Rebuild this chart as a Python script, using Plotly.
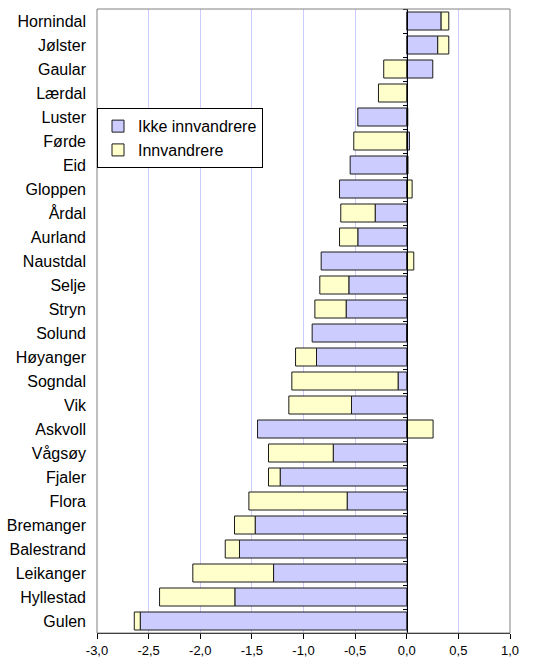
import plotly.graph_objects as go

# --- Data ---
kommuner = ["Hornindal", "Jølster", "Gaular", "Lærdal", "Luster", "Førde", "Eid",
            "Gloppen", "Årdal", "Aurland", "Naustdal", "Selje", "Stryn", "Solund",
            "Høyanger", "Sogndal", "Vik", "Askvoll", "Vågsøy", "Fjaler", "Flora",
            "Bremanger", "Balestrand", "Leikanger", "Hyllestad", "Gulen"]

ikke_innvandrere = [0.333, 0.300, 0.252, 0.0, -0.474, 0.026, -0.548,
                    -0.651, -0.306, -0.474, -0.829, -0.561, -0.587, -0.916,
                    -0.874, -0.084, -0.535, -1.445, -0.712, -1.226, -0.577,
                    -1.468, -1.620, -1.290, -1.665, -2.581]

innvandrere = [0.074, 0.107, -0.223, -0.274, 0.010, -0.513, 0.012,
               0.052, -0.333, -0.177, 0.068, -0.281, -0.303, 0.0,
               -0.203, -1.029, -0.607, 0.255, -0.627, -0.113, -0.952,
               -0.200, -0.138, -0.782, -0.729, -0.058]

x_ticks = [-3.0, -2.5, -2.0, -1.5, -1.0, -0.5, 0.0, 0.5, 1.0]
x_tick_labels = ["-3,0", "-2,5", "-2,0", "-1,5", "-1,0", "-0,5", "0,0", "0,5", "1,0"]

n = len(kommuner)
y_range = [n - 0.5, -0.5]  # first category at the top

# --- Figure ---
fig = go.Figure()

fig.add_trace(go.Bar(
    y=kommuner, x=ikke_innvandrere, orientation="h", name="Ikke innvandrere",
    marker=dict(color="#CCCCFF", line=dict(color="#1a1a1a", width=1)),
))
fig.add_trace(go.Bar(
    y=kommuner, x=innvandrere, orientation="h", name="Innvandrere",
    marker=dict(color="#FFFFCC", line=dict(color="#1a1a1a", width=1)),
))

# invisible trace so the category axis crossing at x=0 gets drawn
fig.add_trace(go.Scatter(
    y=kommuner, x=[0] * n, yaxis="y2", mode="markers",
    marker=dict(size=1, opacity=0), showlegend=False, hoverinfo="skip",
))

fig.update_layout(
    width=534, height=660,
    barmode="relative",
    bargap=0.25,
    paper_bgcolor="white",
    plot_bgcolor="white",
    font=dict(family="Liberation Sans, Arial, sans-serif", color="black", size=16),
    margin=dict(l=97, r=24, t=9, b=27),
    xaxis=dict(
        range=[-3, 1], tickvals=x_ticks, ticktext=x_tick_labels,
        tickfont=dict(size=13),
        showgrid=True, gridcolor="#CCCCFF", gridwidth=1,
        zeroline=False,
        showline=True, linecolor="black", linewidth=1,
        ticks="outside", ticklen=5, tickcolor="black",
        automargin=False,
    ),
    yaxis=dict(
        categoryorder="array", categoryarray=kommuner, range=y_range,
        showgrid=False, zeroline=False, showline=False, ticks="",
        ticklabelstandoff=10, tickfont=dict(size=16), automargin=False,
    ),
    yaxis2=dict(
        overlaying="y", anchor="free", position=0.75, side="left",
        categoryorder="array", categoryarray=kommuner, range=y_range,
        showticklabels=False, showgrid=False, zeroline=False,
        showline=True, linecolor="black", linewidth=1,
        ticks="outside", ticklen=4, tickcolor="black", tickwidth=1,
        tickson="boundaries", automargin=False, layer="above traces",
    ),
    legend=dict(
        x=0, y=0.841, xanchor="left", yanchor="top",
        bgcolor="white", bordercolor="black", borderwidth=1,
        font=dict(size=16), traceorder="normal",
    ),
    shapes=[dict(
        type="rect", xref="paper", yref="paper", x0=0, x1=1, y0=0, y1=1,
        line=dict(color="#808080", width=1), layer="above",
    )],
)

fig.write_html("out.html", config={"displayModeBar": False},
               post_script="document.body.style.margin='0';")
